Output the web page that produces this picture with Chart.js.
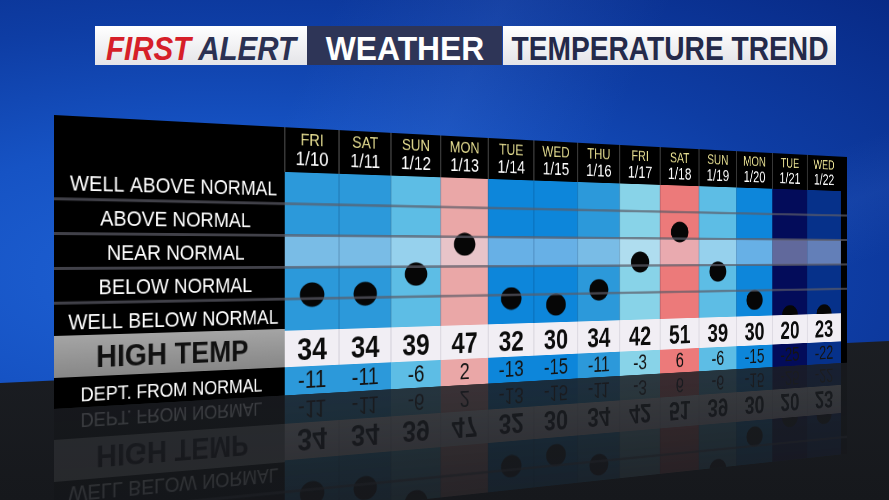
<!DOCTYPE html>
<html>
<head>
<meta charset="utf-8">
<title>Temperature Trend</title>
<script src="https://cdn.jsdelivr.net/npm/chart.js@4.4.1/dist/chart.umd.min.js"></script>
<style>
  html, body { margin: 0; padding: 0; overflow: hidden; }
  #stage {
    position: relative; width: 889px; height: 500px; overflow: hidden;
    font-family: 'Liberation Sans', Arial, sans-serif;
    background:
      linear-gradient(115deg, rgba(255,255,255,0) 30%, rgba(120,170,255,0.10) 45%, rgba(255,255,255,0) 60%),
      linear-gradient(160deg, rgba(255,255,255,0) 55%, rgba(110,160,255,0.08) 62%, rgba(255,255,255,0) 70%),
      radial-gradient(ellipse at 25% 55%, #1f63d6 0%, #1653c4 35%, #0e3da4 65%, #082a86 100%);
  }
  .floor {
    position: absolute; left: 0; top: 0; width: 889px; height: 500px;
    clip-path: polygon(0 383px, 889px 341px, 889px 500px, 0 500px);
    background: linear-gradient(#262a31, #16181c);
  }
  .box { position: absolute; top: 26px; height: 39px; overflow: hidden; }
  .b1 { left: 95px; width: 212px; background: linear-gradient(#ffffff, #e4e4e8); }
  .b2 { left: 307px; width: 195px; background: #2e3557; }
  .b3 { left: 503px; width: 333px; background: linear-gradient(#ffffff, #e4e4e8); }
  .t {
    position: absolute; left: 50%; top: 50%; white-space: nowrap;
    font-weight: bold; font-size: 34px; line-height: 1;
    transform-origin: 50% 50%;
  }
  .b1 .t { font-style: italic; color: #2b3152; }
  .b1 .red { color: #d61f29; }
  .b2 .t { color: #ffffff; }
  .b3 .t { color: #242a4a; }
  #wrap {
    position: absolute; left: 54px; top: 115px; width: 1206px; height: 294px;
    transform-origin: 0 140px;
    transform: perspective(962px) rotateY(20deg);
  }
  #wrap canvas { position: absolute; left: 0; }
  #chart { top: 0; }
  #refl {
    top: 294px; opacity: 0.15;
    -webkit-mask-image: linear-gradient(#000 0%, rgba(0,0,0,0.5) 100%);
    mask-image: linear-gradient(#000 0%, rgba(0,0,0,0.5) 100%);
  }
</style>
</head>
<body>
<div id="stage">
  <div class="floor"></div>
  <div class="box b1"><span class="t" data-w="190"><span class="red">FIRST</span> ALERT</span></div>
  <div class="box b2"><span class="t" data-w="158">WEATHER</span></div>
  <div class="box b3"><span class="t" data-w="317">TEMPERATURE TREND</span></div>
  <div id="wrap">
    <canvas id="chart" width="1206" height="294"></canvas>
    <canvas id="refl" width="1206" height="130"></canvas>
  </div>
</div>
<script>
const days = ['FRI', 'SAT', 'SUN', 'MON', 'TUE', 'WED', 'THU', 'FRI', 'SAT', 'SUN', 'MON', 'TUE', 'WED'];
const dates = ['1/10', '1/11', '1/12', '1/13', '1/14', '1/15', '1/16', '1/17', '1/18', '1/19', '1/20', '1/21', '1/22'];
const highTemps = [34, 34, 39, 47, 32, 30, 34, 42, 51, 39, 30, 20, 23];
const departures = [-11, -11, -6, 2, -13, -15, -11, -3, 6, -6, -15, -25, -22];
// where the dots sit (the two coldest days are pinned at the bottom of the grid)
const dotLevels = [-11, -11, -6, 2, -13, -15, -11, -3, 6, -6, -15, -20, -20];
const rowLabels = ['WELL ABOVE NORMAL', 'ABOVE NORMAL', 'NEAR NORMAL', 'BELOW NORMAL', 'WELL BELOW NORMAL'];
const rowCenters = [16, 8, 0, -8, -16];
const rowEdges = [20, 12, 4, -4, -12, -20];

const W = 1206, H = 294;
const LABEL_W = 269, HEAD_H = 49, TEMP_H = 40, DEPT_H = 31;
const FONT = "'Liberation Sans', Arial, sans-serif";

// fit the banner words to their boxes
document.querySelectorAll('.t').forEach(el => {
  const s = parseFloat(el.dataset.w) / el.offsetWidth;
  el.style.transform = 'translate(-50%, -44%) scaleX(' + s.toFixed(3) + ')';
});

function colorFor(d) {
  if (d >= 5) return '#ec7a7a';
  if (d >= 0) return '#eaa7a7';
  if (d >= -3) return '#88d3e8';
  if (d >= -8) return '#5dbde5';
  if (d >= -12) return '#2c99da';
  if (d >= -18) return '#0d86da';
  if (d >= -23) return '#06318a';
  return '#030c5a';
}

// black dot, a little wider than tall
const dot = document.createElement('canvas');
dot.width = 33; dot.height = 28;
const dc = dot.getContext('2d');
dc.fillStyle = '#060606';
dc.beginPath();
dc.ellipse(16.5, 14, 16, 13.5, 0, 0, Math.PI * 2);
dc.fill();

const board = {
  id: 'board',
  beforeDraw(chart) {
    const ctx = chart.ctx;
    const bottom = chart.chartArea.bottom;
    ctx.save();
    ctx.fillStyle = '#000';
    ctx.fillRect(0, 0, W, H);
    // grey HIGH TEMP cell
    const g = ctx.createLinearGradient(0, bottom, 0, bottom + TEMP_H);
    g.addColorStop(0, '#a3a3a3');
    g.addColorStop(1, '#878787');
    ctx.fillStyle = g;
    ctx.fillRect(0, bottom - 2, LABEL_W, TEMP_H + 2);
    ctx.restore();
  },
  afterDatasetDraw(chart, args) {
    if (args.index !== 0) return;
    const ctx = chart.ctx, x = chart.scales.x, y = chart.scales.y;
    const a = chart.chartArea;
    ctx.save();
    // near normal band is lighter
    const t = y.getPixelForValue(rowEdges[2]), b = y.getPixelForValue(rowEdges[3]);
    ctx.fillStyle = 'rgba(228,236,248,0.42)';
    ctx.fillRect(a.left, t, a.right - a.left, b - t);
    // column separators
    ctx.strokeStyle = 'rgba(0,20,60,0.3)';
    ctx.lineWidth = 1;
    for (let i = 1; i < days.length; i++) {
      const px = (x.getPixelForValue(i - 1) + x.getPixelForValue(i)) / 2;
      ctx.beginPath(); ctx.moveTo(px, a.top); ctx.lineTo(px, a.bottom); ctx.stroke();
    }
    ctx.restore();
  },
  afterDatasetsDraw(chart) {
    const ctx = chart.ctx, y = chart.scales.y;
    ctx.save();
    ctx.strokeStyle = 'rgba(92,92,104,0.7)';
    ctx.lineWidth = 3;
    for (let k = 1; k < rowEdges.length - 1; k++) {
      const py = y.getPixelForValue(rowEdges[k]);
      ctx.beginPath(); ctx.moveTo(0, py); ctx.lineTo(W, py); ctx.stroke();
    }
    ctx.restore();
  },
  afterDraw(chart) {
    const ctx = chart.ctx, x = chart.scales.x;
    const a = chart.chartArea;
    const cw = (a.right - a.left) / days.length;
    const tTop = a.bottom, dTop = a.bottom + TEMP_H;
    ctx.save();
    ctx.textAlign = 'center';
    ctx.textBaseline = 'middle';
    // header: separators, day names, dates
    ctx.strokeStyle = '#4a4a4a';
    ctx.lineWidth = 1.5;
    for (let i = 0; i < days.length; i++) {
      const cx = x.getPixelForValue(i);
      ctx.beginPath(); ctx.moveTo(cx - cw / 2, 0); ctx.lineTo(cx - cw / 2, a.top); ctx.stroke();
      ctx.fillStyle = '#e7df92';
      ctx.font = '19px ' + FONT;
      ctx.fillText(days[i], cx, 14);
      ctx.fillStyle = '#ffffff';
      ctx.font = '22px ' + FONT;
      ctx.fillText(dates[i], cx, 35);
    }
    // high temp row
    ctx.fillStyle = '#f1eef4';
    ctx.fillRect(a.left, tTop, a.right - a.left, TEMP_H);
    for (let i = 0; i < days.length; i++) {
      const cx = x.getPixelForValue(i);
      ctx.fillStyle = colorFor(departures[i]);
      ctx.fillRect(cx - cw / 2, dTop, cw, DEPT_H);
      ctx.strokeStyle = '#cbc8d2';
      ctx.lineWidth = 1;
      if (i > 0) {
        ctx.beginPath(); ctx.moveTo(cx - cw / 2, tTop); ctx.lineTo(cx - cw / 2, dTop); ctx.stroke();
      }
      ctx.fillStyle = '#0c0c0c';
      ctx.font = 'bold 35px ' + FONT;
      ctx.fillText(String(highTemps[i]), cx, tTop + 23);
      ctx.fillStyle = '#141414';
      ctx.font = '27px ' + FONT;
      ctx.fillText(String(departures[i]), cx, dTop + 17);
    }
    // row titles under the grid
    ctx.fillStyle = '#111';
    ctx.font = 'bold 32px ' + FONT;
    ctx.fillText('HIGH TEMP', LABEL_W / 2, tTop + 22);
    ctx.fillStyle = '#fff';
    ctx.font = '20px ' + FONT;
    ctx.fillText('DEPT. FROM NORMAL', LABEL_W / 2, dTop + 19);
    ctx.restore();
  },
  afterRender(chart) {
    // mirrored copy for the floor reflection
    const r = document.getElementById('refl');
    const rc = r.getContext('2d');
    rc.clearRect(0, 0, r.width, r.height);
    rc.save();
    rc.scale(1, -1);
    rc.drawImage(chart.canvas, 0, -H);
    rc.restore();
  }
};

new Chart(document.getElementById('chart'), {
  type: 'bar',
  data: {
    labels: dates,
    datasets: [
      {
        label: 'column',
        data: days.map(() => [rowEdges[rowEdges.length - 1], rowEdges[0]]),
        backgroundColor: departures.map(colorFor),
        borderWidth: 0,
        barPercentage: 1,
        categoryPercentage: 1,
        order: 2
      },
      {
        type: 'line',
        label: 'departure',
        data: dotLevels,
        showLine: false,
        pointStyle: dot,
        pointRadius: 13,
        clip: false,
        order: 1
      }
    ]
  },
  plugins: [board],
  options: {
    responsive: false,
    animation: false,
    events: [],
    layout: { padding: { left: 0, right: 0, top: 0, bottom: TEMP_H + DEPT_H } },
    plugins: {
      legend: { display: false },
      tooltip: { enabled: false }
    },
    scales: {
      x: {
        type: 'category',
        position: 'top',
        offset: true,
        grid: { display: false },
        border: { display: false },
        ticks: { display: false },
        afterFit(scale) { scale.height = HEAD_H; }
      },
      y: {
        min: rowEdges[rowEdges.length - 1],
        max: rowEdges[0],
        grid: { display: false, drawTicks: false },
        border: { display: false },
        afterBuildTicks(scale) {
          scale.ticks = rowCenters.map(v => ({ value: v }));
        },
        ticks: {
          color: '#ffffff',
          font: { family: FONT, size: 22 },
          crossAlign: 'center',
          padding: 8,
          labelOffset: 3,
          callback: v => rowLabels[rowCenters.indexOf(v)]
        },
        afterFit(scale) { scale.width = LABEL_W; }
      }
    }
  }
});
</script>
</body>
</html>
